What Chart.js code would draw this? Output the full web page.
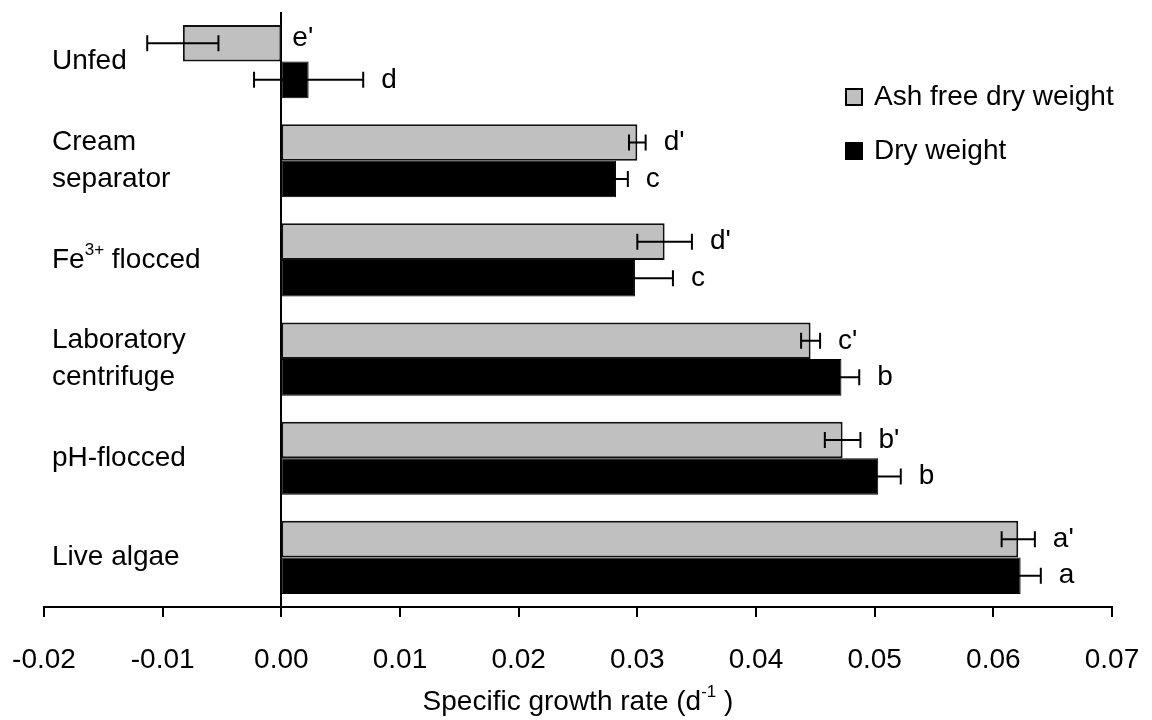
<!DOCTYPE html>
<html>
<head>
<meta charset="utf-8">
<script src="https://cdn.jsdelivr.net/npm/chart.js@4.4.1/dist/chart.umd.min.js"></script>
<style>
  html, body { margin: 0; padding: 0; background: #ffffff; }
  #wrap { width: 1152px; height: 720px; position: relative; }
</style>
</head>
<body>
<div id="wrap"><canvas id="c" width="1152" height="720"></canvas></div>
<script>
// ---- Data ----
const categories = ["Unfed", "Cream separator", "Fe3+ flocced", "Laboratory centrifuge", "pH-flocced", "Live algae"];
const afdwValues = [-0.0083, 0.0300, 0.0323, 0.0446, 0.0473, 0.0621];
const afdwErrors = [0.0030, 0.0007, 0.0023, 0.0008, 0.0015, 0.0014];
const dwValues   = [0.0023, 0.0282, 0.0298, 0.0472, 0.0503, 0.0623];
const dwErrors   = [0.0046, 0.0010, 0.0032, 0.0015, 0.0019, 0.0017];
const afdwLetters = ["e'", "d'", "d'", "c'", "b'", "a'"];
const dwLetters   = ["d", "c", "c", "b", "b", "a"];
const xTickMin = -0.02, xTickMax = 0.07, xTickStep = 0.01;
const seriesNames = ["Ash free dry weight", "Dry weight"];

const FONT = "'Liberation Sans', Arial, Helvetica, sans-serif";
const FS = 28;

// label rendering: split multi-word labels, handle superscript
function labelLines(label) {
  if (label === "Cream separator") return [["Cream"], ["separator"]];
  if (label === "Laboratory centrifuge") return [["Laboratory"], ["centrifuge"]];
  if (label.indexOf("3+") >= 0) return [["Fe", {sup: "3+"}, " flocced"]];
  return [[label]];
}

function drawRich(ctx, parts, x, y, align) {
  ctx.textBaseline = "middle";
  ctx.textAlign = "left";
  let total = 0;
  const widths = parts.map(p => {
    if (typeof p === "string") { ctx.font = FS + "px " + FONT; }
    else { ctx.font = Math.round(FS * 0.62) + "px " + FONT; }
    const w = ctx.measureText(typeof p === "string" ? p : p.sup).width;
    total += w;
    return w;
  });
  let cx = align === "center" ? x - total / 2 : x;
  parts.forEach((p, i) => {
    if (typeof p === "string") {
      ctx.font = FS + "px " + FONT;
      ctx.fillText(p, cx, y);
    } else {
      ctx.font = Math.round(FS * 0.62) + "px " + FONT;
      ctx.fillText(p.sup, cx, y - FS * 0.36);
    }
    cx += widths[i];
  });
}

const overlayPlugin = {
  id: "overlay",
  afterDatasetsDraw(chart) {
    const ctx = chart.ctx;
    const xs = chart.scales.x, ys = chart.scales.y;
    const area = chart.chartArea;
    ctx.save();
    ctx.fillStyle = "#000";
    ctx.strokeStyle = "#000";

    // error bars + letters
    const errs = [afdwErrors, dwErrors];
    const vals = [afdwValues, dwValues];
    const letters = [afdwLetters, dwLetters];
    const zeroPx = xs.getPixelForValue(0);
    for (let d = 0; d < 2; d++) {
      const meta = chart.getDatasetMeta(d);
      meta.data.forEach((el, i) => {
        const v = vals[d][i], e = errs[d][i];
        const xl = xs.getPixelForValue(v - e), xr = xs.getPixelForValue(v + e);
        const y = el.y;
        ctx.lineWidth = 2;
        ctx.beginPath();
        ctx.moveTo(xl, y); ctx.lineTo(xr, y);
        ctx.moveTo(xl, y - 8); ctx.lineTo(xl, y + 8);
        ctx.moveTo(xr, y - 8); ctx.lineTo(xr, y + 8);
        ctx.stroke();
        const lx = xr > zeroPx ? xr + 18 : zeroPx + 11;
        ctx.font = FS + "px " + FONT;
        ctx.textAlign = "left";
        ctx.textBaseline = "middle";
        ctx.fillText(letters[d][i], lx, y - (v < 0 ? 5 : 0));
      });
    }

    // category labels
    categories.forEach((c, i) => {
      const yc = ys.getPixelForValue(i);
      const lines = labelLines(c);
      const lh = 37;
      const y0 = yc - (lines.length - 1) * lh / 2;
      lines.forEach((parts, k) => drawRich(ctx, parts, area.left + 8, y0 + k * lh, "left"));
    });

    // legend
    const lgX = area.right - 266;
    const lgY = [area.top + 85, area.top + 139];
    const fills = ["#c0c0c0", "#000000"];
    for (let k = 0; k < 2; k++) {
      ctx.fillStyle = fills[k];
      ctx.fillRect(lgX, lgY[k] - 8, 16, 16);
      ctx.lineWidth = 2;
      ctx.strokeStyle = "#000";
      ctx.strokeRect(lgX, lgY[k] - 8, 16, 16);
      ctx.fillStyle = "#000";
      ctx.font = FS + "px " + FONT;
      ctx.textAlign = "left";
      ctx.textBaseline = "middle";
      ctx.fillText(seriesNames[k], lgX + 28, lgY[k]);
    }

    // x axis title with superscript
    drawRich(ctx, ["Specific growth rate (d", {sup: "-1"}, " )"], (area.left + area.right) / 2, 702, "center");
    ctx.restore();
  }
};

new Chart(document.getElementById("c"), {
  type: "bar",
  data: {
    labels: categories,
    datasets: [
      { label: seriesNames[0], data: afdwValues, backgroundColor: "#c0c0c0", borderColor: "#111", borderWidth: 2, borderSkipped: false },
      { label: seriesNames[1], data: dwValues, backgroundColor: "#000000", borderColor: "#000", borderWidth: 1, borderSkipped: false }
    ]
  },
  options: {
    indexAxis: "y",
    responsive: false,
    animation: false,
    devicePixelRatio: 1,
    layout: { padding: { left: 44, right: 40, top: 12, bottom: 0 } },
    plugins: { legend: { display: false }, tooltip: { enabled: false } },
    datasets: { bar: { categoryPercentage: 0.737, barPercentage: 1.0 } },
    scales: {
      x: {
        type: "linear",
        min: xTickMin, max: xTickMax,
        afterFit(scale) { scale.height = 113; scale.paddingLeft = 0; scale.paddingRight = 0; },
        ticks: {
          stepSize: xTickStep,
          color: "#000",
          font: { family: FONT, size: FS },
          padding: 26,
          maxRotation: 0,
          callback: v => Number(v).toFixed(2)
        },
        grid: {
          drawOnChartArea: true,
          drawTicks: true,
          tickLength: 10,
          lineWidth: 2,
          tickColor: "#000",
          tickWidth: 2,
          color: ctx => (ctx.tick && Math.abs(ctx.tick.value) < 1e-9) ? "#000" : "rgba(0,0,0,0)"
        },
        border: { display: true, color: "#000", width: 2 }
      },
      y: {
        type: "category",
        display: false,
        offset: true
      }
    }
  },
  plugins: [overlayPlugin]
});
</script>
</body>
</html>
